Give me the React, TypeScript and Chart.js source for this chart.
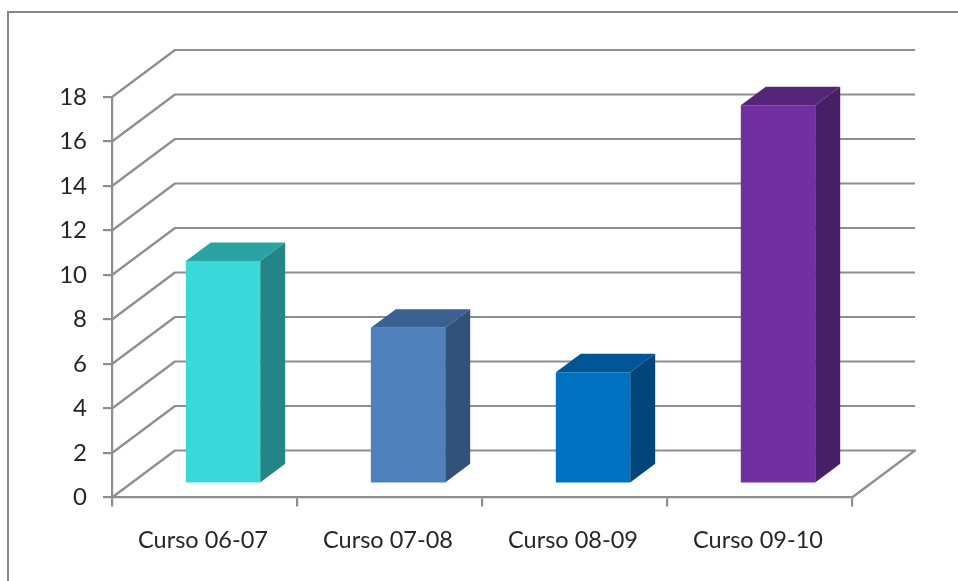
import React, { useEffect, useRef } from "react";
import { Chart, registerables } from "chart.js";

Chart.register(...registerables);

const categories = ["Curso 06-07", "Curso 07-08", "Curso 08-09", "Curso 09-10"];
const values = [10, 7, 5, 17];

const frontColors = ["#3AD8D8", "#4F81BD", "#0070C0", "#7030A0"];
const topColors = ["#2CA3A3", "#3A6191", "#005596", "#542478"];
const sideColors = ["#238585", "#31527A", "#00467A", "#471F66"];

const GRID = "#8E8E8E";
const GRID_WIDTH = 2.2;
const WALL_DX = 63;
const WALL_DY = -47;
const BAR_SHIFT_X = 18.5;
const BAR_SHIFT_Y = -14;
const BAR_DX = 25;
const BAR_DY = -18.6;

const wallsPlugin = {
  id: "walls",
  beforeDatasetsDraw(chart: any) {
    const { ctx, scales } = chart;
    const y = scales.y;
    const left = scales.x.left;
    const right = scales.x.right;
    ctx.save();
    ctx.strokeStyle = GRID;
    ctx.lineWidth = GRID_WIDTH;
    ctx.lineJoin = "round";
    y.ticks.forEach((t: any) => {
      const py = y.getPixelForValue(t.value);
      ctx.beginPath();
      ctx.moveTo(left, py);
      ctx.lineTo(left + WALL_DX, py + WALL_DY);
      ctx.lineTo(right + WALL_DX, py + WALL_DY);
      if (t.value === 0) ctx.lineTo(right, py);
      ctx.stroke();
    });
    ctx.restore();
  },
};

const bars3dPlugin = {
  id: "bars3d",
  beforeDatasetDraw(chart: any, args: any) {
    const { ctx } = chart;
    const meta = chart.getDatasetMeta(args.index);
    ctx.save();
    ctx.translate(BAR_SHIFT_X, BAR_SHIFT_Y);
    meta.data.forEach((bar: any, i: number) => {
      const l = bar.x - bar.width / 2;
      const r = bar.x + bar.width / 2;
      ctx.fillStyle = topColors[i];
      ctx.beginPath();
      ctx.moveTo(l, bar.y);
      ctx.lineTo(l + BAR_DX, bar.y + BAR_DY);
      ctx.lineTo(r + BAR_DX, bar.y + BAR_DY);
      ctx.lineTo(r, bar.y);
      ctx.closePath();
      ctx.fill();
      ctx.fillStyle = sideColors[i];
      ctx.beginPath();
      ctx.moveTo(r, bar.y);
      ctx.lineTo(r + BAR_DX, bar.y + BAR_DY);
      ctx.lineTo(r + BAR_DX, bar.base + BAR_DY);
      ctx.lineTo(r, bar.base);
      ctx.closePath();
      ctx.fill();
    });
  },
  afterDatasetDraw(chart: any) {
    chart.ctx.restore();
  },
};

export default function App() {
  const ref = useRef<HTMLCanvasElement>(null);

  useEffect(() => {
    const chart = new Chart(ref.current as HTMLCanvasElement, {
      type: "bar",
      data: {
        labels: categories,
        datasets: [
          {
            data: values,
            backgroundColor: frontColors,
            barPercentage: 0.402,
            categoryPercentage: 1,
            clip: false,
          } as any,
        ],
      },
      plugins: [wallsPlugin, bars3dPlugin],
      options: {
        animation: false,
        responsive: false,
        layout: { padding: { top: 97, right: 106, bottom: 0, left: 0 } },
        plugins: { legend: { display: false }, tooltip: { enabled: false } },
        scales: {
          x: {
            afterFit(s: any) {
              s.height = 83.5;
            },
            grid: { drawOnChartArea: false, color: GRID, lineWidth: GRID_WIDTH, tickLength: 9 },
            border: { color: GRID, width: GRID_WIDTH },
            ticks: {
              color: "#262626",
              padding: 20,
              labelOffset: -1.5,
              maxRotation: 0,
              font: { family: "Lato", size: 23.5 },
            },
          },
          y: {
            min: 0,
            max: 18,
            afterFit(s: any) {
              s.width = 112;
            },
            grid: { drawOnChartArea: false, color: GRID, lineWidth: GRID_WIDTH, tickLength: 9 },
            border: { color: GRID, width: GRID_WIDTH },
            ticks: {
              stepSize: 2,
              color: "#262626",
              padding: 16,
              font: { family: "Lato", size: 24 },
            },
          },
        },
      } as any,
    });
    return () => chart.destroy();
  }, []);

  return (
    <div style={{ position: "absolute", left: 0, top: 0, width: 958, height: 581, overflow: "hidden", background: "#fff" }}>
      <div
        style={{
          position: "absolute",
          left: 7,
          top: 11,
          right: 0,
          bottom: 0,
          borderTop: "2px solid #868686",
          borderLeft: "2px solid #868686",
        }}
      />
      <canvas
        ref={ref}
        width={958}
        height={581}
        style={{ position: "absolute", left: 0, top: 0, width: 958, height: 581, filter: "blur(0.4px)" }}
      />
    </div>
  );
}
